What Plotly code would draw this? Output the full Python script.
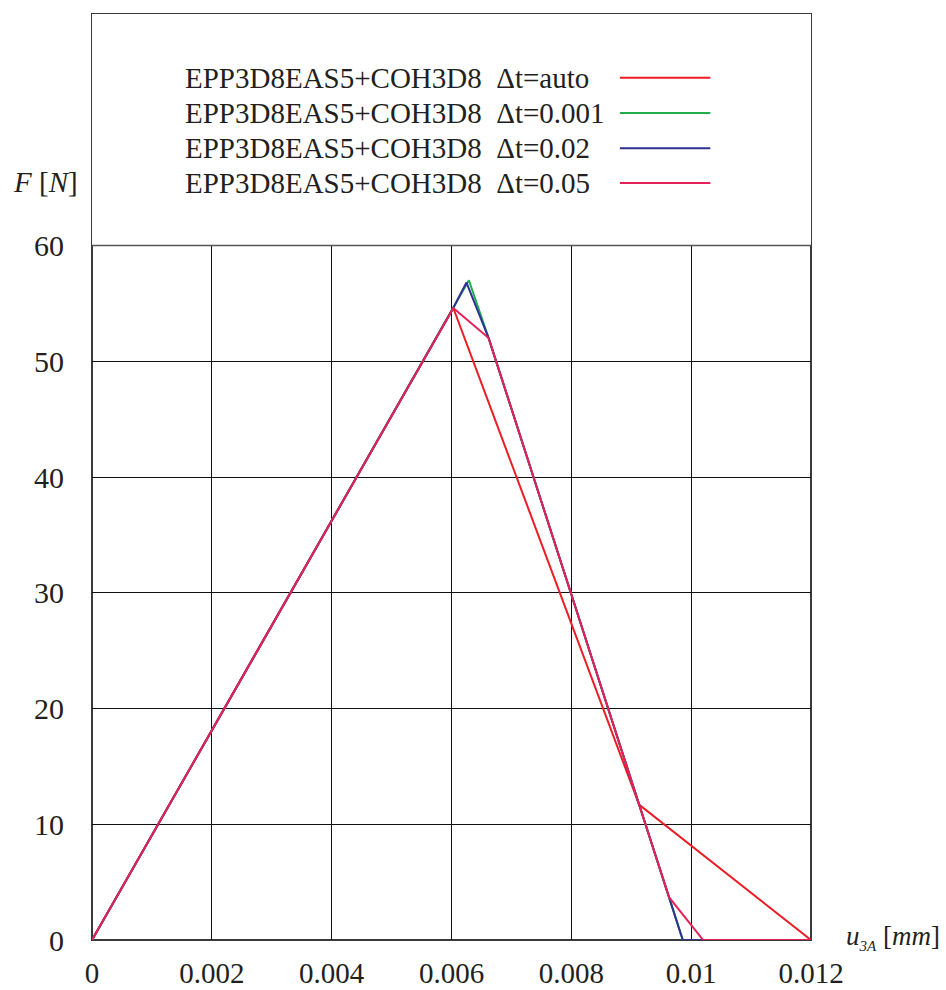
import plotly.graph_objects as go

# Force–displacement curves, EPP3D8EAS5+COH3D8, for several time steps
u_auto = [0.0, 0.00603, 0.00913, 0.012]
f_auto = [0.0, 54.6, 11.7, 0.0]

u_001 = [0.0, 0.00629, 0.00662, 0.00963, 0.00986, 0.012]
f_001 = [0.0, 57.0, 52.0, 3.7, 0.0, 0.0]

u_02 = [0.0, 0.00603, 0.00625, 0.00662, 0.00963, 0.00986, 0.012]
f_02 = [0.0, 54.6, 56.8, 52.0, 3.7, 0.0, 0.0]

u_05 = [0.0, 0.00603, 0.00662, 0.00963, 0.0102, 0.012]
f_05 = [0.0, 54.6, 52.0, 3.7, 0.0, 0.0]

names = [
    "EPP3D8EAS5+COH3D8  Δt=auto",
    "EPP3D8EAS5+COH3D8  Δt=0.001",
    "EPP3D8EAS5+COH3D8  Δt=0.02",
    "EPP3D8EAS5+COH3D8  Δt=0.05",
]
colors = ["#ed1c24", "#1fae4b", "#2e3192", "#e6215a"]

x_ticks = [0, 0.002, 0.004, 0.006, 0.008, 0.01, 0.012]
x_labels = ["0", "0.002", "0.004", "0.006", "0.008", "0.01", "0.012"]
y_ticks = [0, 10, 20, 30, 40, 50, 60]

FONT = "Liberation Serif, Times New Roman, serif"
INK = "#231f20"

fig = go.Figure()
series = [(u_auto, f_auto), (u_001, f_001), (u_02, f_02), (u_05, f_05)]
for (u, f), name, c in zip(series, names, colors):
    fig.add_trace(go.Scatter(x=u, y=f, mode="lines", name=name,
                             line=dict(color=c, width=2), showlegend=False))

# legend box above the plotting region
fig.add_shape(type="rect", xref="x", yref="y", x0=0, x1=0.012, y0=60, y1=80,
              fillcolor="white", line=dict(width=0), layer="between")

legend_y = [74.5, 71.45, 68.4, 65.4]
for name, c, ly in zip(names, colors, legend_y):
    fig.add_annotation(x=0.00152, y=ly, xref="x", yref="y", text=name,
                       showarrow=False, xanchor="left", yanchor="middle",
                       font=dict(family=FONT, size=29, color=INK))
    fig.add_shape(type="line", xref="x", yref="y", x0=0.00881, x1=0.01032,
                  y0=ly, y1=ly, line=dict(color=c, width=2))

# frame and separator, kept beneath the curves
fig.add_shape(type="line", xref="x", yref="y", x0=0, x1=0.012, y0=60, y1=60,
              line=dict(color="#555555", width=1.5), layer="between")
fig.add_shape(type="rect", xref="paper", yref="paper", x0=0, x1=1, y0=0, y1=1,
              line=dict(color="#3a3a3a", width=2), layer="between")

fig.add_annotation(xref="paper", yref="paper", x=-0.113, y=0.819,
                   xanchor="left", yanchor="middle", showarrow=False,
                   text="<i>F</i> [<i>N</i>]",
                   font=dict(family=FONT, size=29, color=INK))
fig.add_annotation(xref="paper", yref="paper", x=1.046, y=0.003,
                   xanchor="left", yanchor="middle", showarrow=False,
                   text="<i>u</i><sub><span style='font-size:15px'><i>3A</i></span></sub> [<i>mm</i>]",
                   font=dict(family=FONT, size=27, color=INK))

fig.update_xaxes(range=[0, 0.012], tickvals=x_ticks, ticktext=x_labels,
                 showgrid=True, gridcolor="#111111", gridwidth=1,
                 zeroline=False, showline=False, ticks="", automargin=False,
                 tickfont=dict(family=FONT, size=29, color=INK),
                 ticklabelstandoff=13)
fig.update_yaxes(range=[0, 80], tickvals=y_ticks,
                 showgrid=True, gridcolor="#111111", gridwidth=1,
                 zeroline=False, showline=False, ticks="", automargin=False,
                 tickfont=dict(family=FONT, size=30, color=INK),
                 ticklabelstandoff=27)

fig.update_layout(width=946, height=990,
                  margin=dict(l=92, r=135, t=14, b=50),
                  plot_bgcolor="white", paper_bgcolor="white")

fig.write_html("out.html")
